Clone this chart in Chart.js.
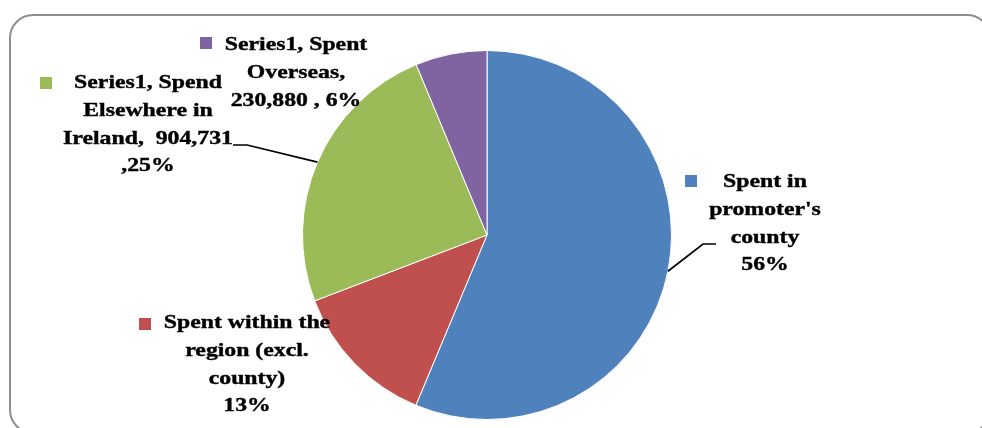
<!DOCTYPE html>
<html><head><meta charset="utf-8">
<script src="https://cdn.jsdelivr.net/npm/chart.js@4.4.1/dist/chart.umd.min.js"></script>
<style>
html,body{margin:0;padding:0;background:#fff;overflow:hidden}
#wrap{position:absolute;left:0;top:0;width:982px;height:428px;overflow:hidden}
#frame{position:absolute;left:9px;top:14px;width:982px;height:420px;border:2px solid #8e8e8e;border-radius:24px;box-sizing:border-box}
#c{position:absolute;left:0;top:0}
</style></head><body>
<div id="wrap"><div id="frame"></div><canvas id="c" width="982" height="428"></canvas></div>
<script>
const seriesName = "Series1";
const categories = ["Spent in promoter's county", "Spent within the region (excl. county)", "Spend Elsewhere in Ireland", "Spent Overseas"];
const values = [2075000, 475000, 904731, 230880];
const colors = ["#4F81BD", "#C0504D", "#9BBB59", "#8064A2"];
// data label text lines ({v} = value, {p} = percentage)
const labelLines = [
  ["Spent in", "promoter's", "county", "{p}"],
  ["Spent within the", "region (excl.", "county)", "{p}"],
  [seriesName + ", Spend", "Elsewhere in", "Ireland,  {v}", ",{p}"],
  [seriesName + ", Spent", "Overseas,", "{v} , {p}"]
];

const total = values.reduce((a, b) => a + b, 0);
const fmtV = v => v.toLocaleString('en-US');
const fmtP = v => Math.round(v / total * 100) + '%';

// label layout (positions/styles)
const labelLayout = [
  {cx: 765, y0: 182, sq: [685, 175], leader: [[703, 244], [716, 244]]},
  {cx: 247, y0: 323, sq: [139, 318]},
  {cx: 148, y0: 83, sq: [40, 77], leader: [[247, 145], [233, 145]]},
  {cx: 296, y0: 45, sq: [200, 37]}
];
const lineH = 27.8;
const stretchX = 1.25;

const labelPlugin = {
  id: 'labels',
  afterDatasetsDraw(chart) {
    const ctx = chart.ctx;
    const meta = chart.getDatasetMeta(0);
    ctx.save();
    meta.data.forEach((arc, i) => {
      const L = labelLayout[i];
      const p = arc.getProps(['x', 'y', 'startAngle', 'endAngle', 'outerRadius'], true);
      if (L.leader) {
        const mid = (p.startAngle + p.endAngle) / 2;
        const ex = p.x + p.outerRadius * Math.cos(mid);
        const ey = p.y + p.outerRadius * Math.sin(mid);
        ctx.beginPath();
        ctx.strokeStyle = '#000';
        ctx.lineWidth = 1.7;
        ctx.moveTo(ex, ey);
        L.leader.forEach(pt => ctx.lineTo(pt[0], pt[1]));
        ctx.stroke();
      }
      ctx.fillStyle = colors[i];
      ctx.fillRect(L.sq[0], L.sq[1], 12, 12);
      ctx.fillStyle = '#000';
      ctx.font = 'bold 19px "Liberation Serif", "Times New Roman", serif';
      ctx.textAlign = 'center';
      ctx.textBaseline = 'middle';
      labelLines[i].forEach((ln, k) => {
        const t = ln.replace('{v}', fmtV(values[i])).replace('{p}', fmtP(values[i]));
        ctx.save();
        ctx.translate(L.cx, L.y0 + k * lineH);
        ctx.scale(stretchX, 1);
        ctx.fillText(t, 0, 0);
        ctx.lineWidth = 0.4;
        ctx.strokeStyle = '#000';
        ctx.strokeText(t, 0, 0);
        ctx.restore();
      });
    });
    ctx.restore();
  }
};

new Chart(document.getElementById('c'), {
  type: 'pie',
  data: {
    labels: categories,
    datasets: [{
      label: seriesName,
      data: values,
      backgroundColor: colors,
      borderColor: '#ffffff',
      borderWidth: 1
    }]
  },
  options: {
    responsive: false,
    animation: false,
    layout: {padding: {left: 302, right: 310, top: 50, bottom: 8}},
    plugins: {legend: {display: false}, tooltip: {enabled: false}}
  },
  plugins: [labelPlugin]
});
</script>
</body></html>
